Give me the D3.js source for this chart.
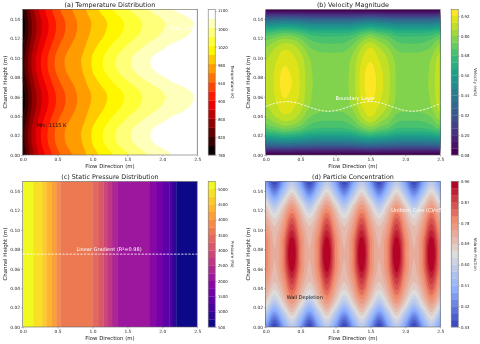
<!DOCTYPE html>
<html lang="en">
<head>
<meta charset="utf-8">
<title>Channel flow fields</title>
<script src="https://d3js.org/d3.v7.min.js"></script>
<style>
    html, body { margin: 0; padding: 0; background: #fff; }
    svg { display: block; filter: blur(0.5px); font-family: "DejaVu Sans", sans-serif; }
    .tick text { fill: #222; }
</style>
</head>
<body>
<svg width="480" height="344"></svg>
<script>
// sample positions of the three read-off grids
var gridX = [0, .125, .25, .375, .5, .625, .75, .875, 1, 1.125, 1.25, 1.375, 1.5, 1.625, 1.75, 1.875, 2, 2.125, 2.25, 2.375, 2.5];
var gridY = [0, .0125, .025, .0375, .05, .0625, .075, .0875, .1, .1125, .125, .1375, .15];

var xTicks = [0, .5, 1, 1.5, 2, 2.5];
var yTicks = [0, .02, .04, .06, .08, .1, .12, .14];

// (a) temperature, K, bottom row first
var tempGrid = [
    [801,849,886,913,936,953,966,978,993,1006,1018,1030,1041,1050,1060,1067,1074,1082,1087,1093,1098],
    [812,860,897,924,947,963,975,984,1003,1018,1032,1045,1056,1066,1075,1083,1090,1096,1102,1108,1112],
    [813,861,898,925,948,964,976,985,1004,1019,1033,1046,1057,1068,1076,1085,1091,1098,1104,1109,1113],
    [803,851,888,915,938,955,968,979,995,1008,1021,1033,1044,1054,1063,1071,1078,1085,1090,1096,1101],
    [792,840,877,904,927,945,960,973,986,997,1009,1019,1030,1039,1049,1056,1064,1071,1076,1082,1089],
    [791,839,876,903,926,944,959,972,984,995,1006,1016,1027,1036,1046,1053,1061,1068,1073,1079,1086],
    [801,849,886,913,936,953,966,978,993,1006,1018,1030,1041,1050,1060,1067,1074,1082,1087,1093,1098],
    [812,860,897,924,947,963,975,984,1003,1018,1032,1045,1056,1066,1075,1083,1090,1096,1102,1108,1112],
    [813,861,898,925,948,964,976,985,1004,1019,1033,1046,1057,1068,1076,1085,1091,1098,1104,1109,1113],
    [803,851,888,915,938,955,968,979,995,1008,1021,1033,1044,1054,1063,1071,1078,1085,1090,1096,1101],
    [792,840,877,904,927,945,960,973,986,997,1009,1019,1030,1039,1049,1056,1064,1071,1076,1082,1089],
    [791,839,876,903,926,944,959,972,984,995,1006,1016,1027,1036,1046,1053,1061,1068,1073,1079,1086],
    [801,849,886,913,936,953,966,978,993,1006,1018,1030,1041,1050,1060,1067,1074,1082,1087,1093,1098]
];
var tempTicks = [780, 820, 860, 900, 940, 980, 1020, 1060, 1100];

// (b) velocity, m/s
var velGrid = [
    [.08,.08,.08,.08,.08,.08,.08,.08,.08,.08,.08,.08,.08,.08,.08,.08,.08,.08,.08,.08,.08],
    [.433,.443,.456,.453,.439,.425,.421,.42,.42,.421,.427,.447,.46,.447,.434,.422,.42,.42,.421,.425,.441],
    [.69,.71,.732,.724,.70,.665,.653,.65,.65,.653,.67,.71,.74,.71,.69,.655,.65,.65,.653,.665,.70],
    [.79,.825,.857,.85,.81,.755,.734,.73,.73,.734,.765,.83,.87,.83,.79,.74,.73,.73,.734,.755,.815],
    [.835,.865,.90,.89,.855,.80,.779,.775,.775,.779,.81,.875,.91,.875,.835,.785,.775,.775,.779,.80,.86],
    [.845,.88,.925,.91,.87,.81,.785,.78,.78,.785,.82,.895,.935,.895,.85,.795,.78,.78,.785,.81,.875],
    [.85,.885,.935,.92,.875,.815,.785,.78,.78,.785,.825,.90,.945,.90,.855,.795,.78,.78,.785,.815,.88],
    [.845,.88,.925,.91,.87,.81,.785,.78,.78,.785,.82,.895,.935,.895,.85,.795,.78,.78,.785,.81,.875],
    [.835,.865,.90,.89,.855,.80,.779,.775,.775,.779,.81,.875,.91,.875,.835,.785,.775,.775,.779,.80,.86],
    [.79,.825,.857,.85,.81,.755,.734,.73,.73,.734,.765,.83,.87,.83,.79,.74,.73,.73,.734,.755,.815],
    [.69,.71,.732,.724,.70,.665,.653,.65,.65,.653,.67,.71,.74,.71,.69,.655,.65,.65,.653,.665,.70],
    [.433,.443,.456,.453,.439,.425,.421,.42,.42,.421,.427,.447,.46,.447,.434,.422,.42,.42,.421,.425,.441],
    [.08,.08,.08,.08,.08,.08,.08,.08,.08,.08,.08,.08,.08,.08,.08,.08,.08,.08,.08,.08,.08]
];
var velTicks = [.08, .2, .32, .44, .56, .68, .8, .92];
var layerX = [0, .15, .3, .45, .6, .75, .9, 1.05, 1.2, 1.35, 1.5, 1.65, 1.8, 1.95, 2.1, 2.25, 2.4, 2.5];
var layerY = [.05, .0535, .055, .0535, .05, .0465, .045, .0465, .05, .0535, .055, .0535, .05, .0465, .045, .0465, .05, .053];

// (c) pressure, Pa: each band starts at pressEdges[i] going right, and has the level pressLevels[i]
var pressEdges = [0, .15, .28, .34, .41, .48, .54, 1, 1.09, 1.155, 1.22, 1.28, 1.36, 1.82, 1.92, 2.01, 2.1, 2.15, 2.2, 2.5];
var pressLevels = [5000, 4750, 4500, 4250, 4000, 3750, 3500, 3250, 3000, 2750, 2500, 2250, 2000, 1750, 1500, 1250, 1000, 750, 500];
var pressTicks = [500, 1000, 1500, 2000, 2500, 3000, 3500, 4000, 4500, 5000];

// (d) particle volume fraction
var concGrid = [
    [.47,.33,.47,.58,.47,.33,.47,.58,.47,.33,.47,.58,.47,.33,.47,.58,.47,.33,.47,.58,.47],
    [.56,.44,.56,.67,.56,.44,.56,.67,.56,.44,.56,.67,.56,.44,.56,.67,.56,.44,.56,.67,.56],
    [.67,.57,.67,.76,.67,.57,.67,.76,.67,.57,.67,.76,.67,.57,.67,.76,.67,.57,.67,.76,.67],
    [.73,.655,.73,.84,.73,.655,.73,.84,.73,.655,.73,.84,.73,.655,.73,.84,.73,.655,.73,.84,.73],
    [.77,.70,.77,.90,.77,.70,.77,.90,.77,.70,.77,.90,.77,.70,.77,.90,.77,.70,.77,.90,.77],
    [.80,.715,.80,.955,.80,.715,.80,.955,.80,.715,.80,.955,.80,.715,.80,.955,.80,.715,.80,.955,.80],
    [.80,.72,.80,.985,.80,.72,.80,.985,.80,.72,.80,.985,.80,.72,.80,.985,.80,.72,.80,.985,.80],
    [.80,.715,.80,.955,.80,.715,.80,.955,.80,.715,.80,.955,.80,.715,.80,.955,.80,.715,.80,.955,.80],
    [.77,.70,.77,.90,.77,.70,.77,.90,.77,.70,.77,.90,.77,.70,.77,.90,.77,.70,.77,.90,.77],
    [.73,.655,.73,.84,.73,.655,.73,.84,.73,.655,.73,.84,.73,.655,.73,.84,.73,.655,.73,.84,.73],
    [.67,.57,.67,.76,.67,.57,.67,.76,.67,.57,.67,.76,.67,.57,.67,.76,.67,.57,.67,.76,.67],
    [.56,.44,.56,.67,.56,.44,.56,.67,.56,.44,.56,.67,.56,.44,.56,.67,.56,.44,.56,.67,.56],
    [.47,.33,.47,.58,.47,.33,.47,.58,.47,.33,.47,.58,.47,.33,.47,.58,.47,.33,.47,.58,.47]
];
var concTicks = [.33, .42, .51, .6, .69, .78, .87, .96];

// matplotlib maps that d3 doesn't ship
var hotMap = d3.scaleLinear()
    .domain([0, .365, .746, 1])
    .range(["#0b0000", "#ff0000", "#ffff00", "#ffffff"]);
var coolwarmMap = d3.scaleLinear()
    .domain([0, .25, .5, .75, 1])
    .range(["#3b4cc0", "#8db0fe", "#dddcdc", "#f08a6c", "#b40426"]);

var svg = d3.select("svg");
var contourLine = d3.line();

function levelsFrom(start, step, stop) {
    var out = [];
    for (var v = start; v < stop + step * 0.01; v += step) out.push(v);
    return out;
}

// cubic through the four neighbours, only used to round the contour outlines
function cubic(a, b, c, d, t) {
    return b + .5 * t * (c - a + t * (2 * a - 5 * b + 4 * c - d + t * (3 * (b - c) + d - a)));
}

function refine(grid, f) {
    var rows = grid.length, cols = grid[0].length;
    function at(r, c) {
        return grid[Math.max(0, Math.min(rows - 1, r))][Math.max(0, Math.min(cols - 1, c))];
    }
    var out = [];
    for (var j = 0; j <= (rows - 1) * f; j++) {
        var r = Math.floor(j / f), tr = j / f - r;
        var line = [];
        for (var i = 0; i <= (cols - 1) * f; i++) {
            var c = Math.floor(i / f), tc = i / f - c;
            var v = [-1, 0, 1, 2].map(function (dr) {
                return cubic(at(r + dr, c - 1), at(r + dr, c), at(r + dr, c + 1), at(r + dr, c + 2), tc);
            });
            line.push(cubic(v[0], v[1], v[2], v[3], tr));
        }
        out.push(line);
    }
    return out;
}

// axes frame, colour bar and labels shared by every panel
function drawPanel(o) {
    var x = d3.scaleLinear().domain([0, 2.5]).range([o.left, o.left + 174.5]);
    var y = d3.scaleLinear().domain([0, 0.15]).range([o.top + 145.7, o.top]);
    var clipId = "clip" + o.id;
    svg.append("clipPath").attr("id", clipId).append("rect")
        .attr("x", o.left).attr("y", o.top).attr("width", 174.5).attr("height", 145.7);
    var field = svg.append("g").attr("clip-path", "url(#" + clipId + ")");

    // contourf spreads the map over the bands, first band gets 0 and last gets 1
    function bandColor(i) {
        return o.cmap(i / (o.levels.length - 2));
    }

    if (o.grid) {
        var fine = refine(o.grid, 5);
        var pad = 2;
        var ny = fine.length, nx = fine[0].length;
        var w = nx + pad * 2, h = ny + pad * 2;
        var flat = [];
        for (var j = 0; j < h; j++) {
            for (var i = 0; i < w; i++) {
                var r = Math.max(0, Math.min(ny - 1, j - pad));
                var c = Math.max(0, Math.min(nx - 1, i - pad));
                flat.push(fine[r][c]);
            }
        }
        var gx = d3.scaleLinear().domain([pad + .5, pad + .5 + nx - 1]).range([x(gridX[0]), x(gridX[gridX.length - 1])]);
        var gy = d3.scaleLinear().domain([pad + .5, pad + .5 + ny - 1]).range([y(gridY[0]), y(gridY[gridY.length - 1])]);

        field.append("rect")
            .attr("x", o.left).attr("y", o.top).attr("width", 174.5).attr("height", 145.7)
            .attr("fill", bandColor(0));
        var contours = d3.contours().size([w, h]).thresholds(o.levels.slice(1, -1))(flat);
        contours.forEach(function (c, k) {
            var d = "";
            c.coordinates.forEach(function (poly) {
                poly.forEach(function (ring) {
                    d += contourLine(ring.map(function (p) { return [gx(p[0]), gy(p[1])]; }));
                });
            });
            field.append("path").attr("d", d)
                .attr("fill", bandColor(k + 1))
                .attr("fill-rule", "evenodd");
        });
    } else {
        pressLevels.forEach(function (lev, i) {
            var k = o.levels.indexOf(lev);
            field.append("rect")
                .attr("x", x(pressEdges[i]))
                .attr("y", o.top)
                .attr("width", x(pressEdges[i + 1]) - x(pressEdges[i]) + .3)
                .attr("height", 145.7)
                .attr("fill", bandColor(k));
        });
    }

    var xAxis = svg.append("g").attr("transform", "translate(0," + (o.top + 145.7) + ")")
        .call(d3.axisBottom(x).tickValues(xTicks).tickSize(1.5).tickPadding(1.2).tickFormat(d3.format(".1f")));
    var yAxis = svg.append("g").attr("transform", "translate(" + o.left + ",0)")
        .call(d3.axisLeft(y).tickValues(yTicks).tickSize(1.5).tickPadding(1.2).tickFormat(d3.format(".2f")));
    [xAxis, yAxis].forEach(function (a) {
        a.selectAll("text").attr("font-size", 4.4).attr("font-family", "DejaVu Sans");
        a.select(".domain").remove();
        a.selectAll("line").attr("stroke", "#555").attr("stroke-width", .4);
    });
    svg.append("rect")
        .attr("x", o.left).attr("y", o.top).attr("width", 174.5).attr("height", 145.7)
        .attr("fill", "none").attr("stroke", "#666").attr("stroke-width", .6);

    // colour bar
    var cbX = o.left + 185.5, cbW = 7;
    var cb = d3.scaleLinear().domain([o.levels[0], o.levels[o.levels.length - 1]]).range([o.top + 145.7, o.top]);
    for (var b = 0; b < o.levels.length - 1; b++) {
        svg.append("rect")
            .attr("x", cbX).attr("y", cb(o.levels[b + 1]))
            .attr("width", cbW).attr("height", cb(o.levels[b]) - cb(o.levels[b + 1]) + .2)
            .attr("fill", bandColor(b));
    }
    var cbAxis = svg.append("g").attr("transform", "translate(" + (cbX + cbW) + ",0)")
        .call(d3.axisRight(cb).tickValues(o.ticks).tickSize(1.5).tickPadding(1.2).tickFormat(o.fmt));
    cbAxis.selectAll("text").attr("font-size", 3.9).attr("font-family", "DejaVu Sans");
    cbAxis.select(".domain").remove();
    cbAxis.selectAll("line").attr("stroke", "#555").attr("stroke-width", .4);
    svg.append("rect")
        .attr("x", cbX).attr("y", o.top).attr("width", cbW).attr("height", 145.7)
        .attr("fill", "none").attr("stroke", "#777").attr("stroke-width", .6);

    svg.append("text").text(o.title)
        .attr("x", o.left + 87.2).attr("y", o.top - 2)
        .attr("text-anchor", "middle").attr("font-size", 6.4).attr("fill", "#222");
    svg.append("text").text("Flow Direction (m)")
        .attr("x", o.left + 87.2).attr("y", o.top + 158.5)
        .attr("text-anchor", "middle").attr("font-size", 5.4).attr("fill", "#222");
    svg.append("text").text("Channel Height (m)")
        .attr("transform", "translate(" + (o.left - 15.5) + "," + (o.top + 72.8) + ") rotate(-90)")
        .attr("text-anchor", "middle").attr("font-size", 5.4).attr("fill", "#222");
    svg.append("text").text(o.unit)
        .attr("transform", "translate(" + (cbX + 22.5) + "," + (o.top + 72.8) + ") rotate(90)")
        .attr("text-anchor", "middle").attr("font-size", 4.1).attr("fill", "#222");

    return { x: x, y: y };
}

function note(p, text, xv, yv, color) {
    svg.append("text").text(text)
        .attr("x", p.x(xv)).attr("y", p.y(yv))
        .attr("font-size", 5).attr("fill", color);
}

var pa = drawPanel({
    id: "a", left: 22.7, top: 9.3, grid: tempGrid, levels: levelsFrom(780, 20.2, 1123),
    cmap: hotMap, ticks: tempTicks, fmt: d3.format("d"),
    title: "(a) Temperature Distribution", unit: "Temperature (K)"
});
note(pa, "Min: 1115 K", .2, .0285, "#111");
note(pa, "Max: 1141 K", 2.11, .1285, "#fff");

var pb = drawPanel({
    id: "b", left: 265.7, top: 9.3, grid: velGrid, levels: levelsFrom(.08, .04, .96),
    cmap: d3.interpolateViridis, ticks: velTicks, fmt: d3.format(".2f"),
    title: "(b) Velocity Magnitude", unit: "Velocity (m/s)"
});
svg.append("path")
    .attr("d", d3.line().curve(d3.curveMonotoneX)
        .x(function (d, i) { return pb.x(layerX[i]); })
        .y(function (d) { return pb.y(d); })(layerY))
    .attr("fill", "none").attr("stroke", "#fff").attr("stroke-width", .8).attr("stroke-dasharray", "2.4 1.2");
note(pb, "Boundary Layer", 1, .0565, "#fff");

var pc = drawPanel({
    id: "c", left: 22.7, top: 181.3, levels: levelsFrom(500, 250, 5250),
    cmap: d3.interpolatePlasma, ticks: pressTicks, fmt: d3.format("d"),
    title: "(c) Static Pressure Distribution", unit: "Pressure (Pa)"
});
svg.append("line")
    .attr("x1", pc.x(0)).attr("x2", pc.x(2.5)).attr("y1", pc.y(.075)).attr("y2", pc.y(.075))
    .attr("stroke", "#fff").attr("stroke-width", .8).attr("stroke-dasharray", "2.4 1.2");
note(pc, "Linear Gradient (R\u00b2=0.98)", .77, .0785, "#fff");

var pd = drawPanel({
    id: "d", left: 265.7, top: 181.3, grid: concGrid, levels: levelsFrom(.33, .03, .96),
    cmap: coolwarmMap, ticks: concTicks, fmt: d3.format(".2f"),
    title: "(d) Particle Concentration", unit: "Volume Fraction"
});
note(pd, "Uniform Core (CV<5%)", 1.8, .1185, "#fff");
note(pd, "Wall Depletion", .3, .0285, "#111");
</script>
</body>
</html>
